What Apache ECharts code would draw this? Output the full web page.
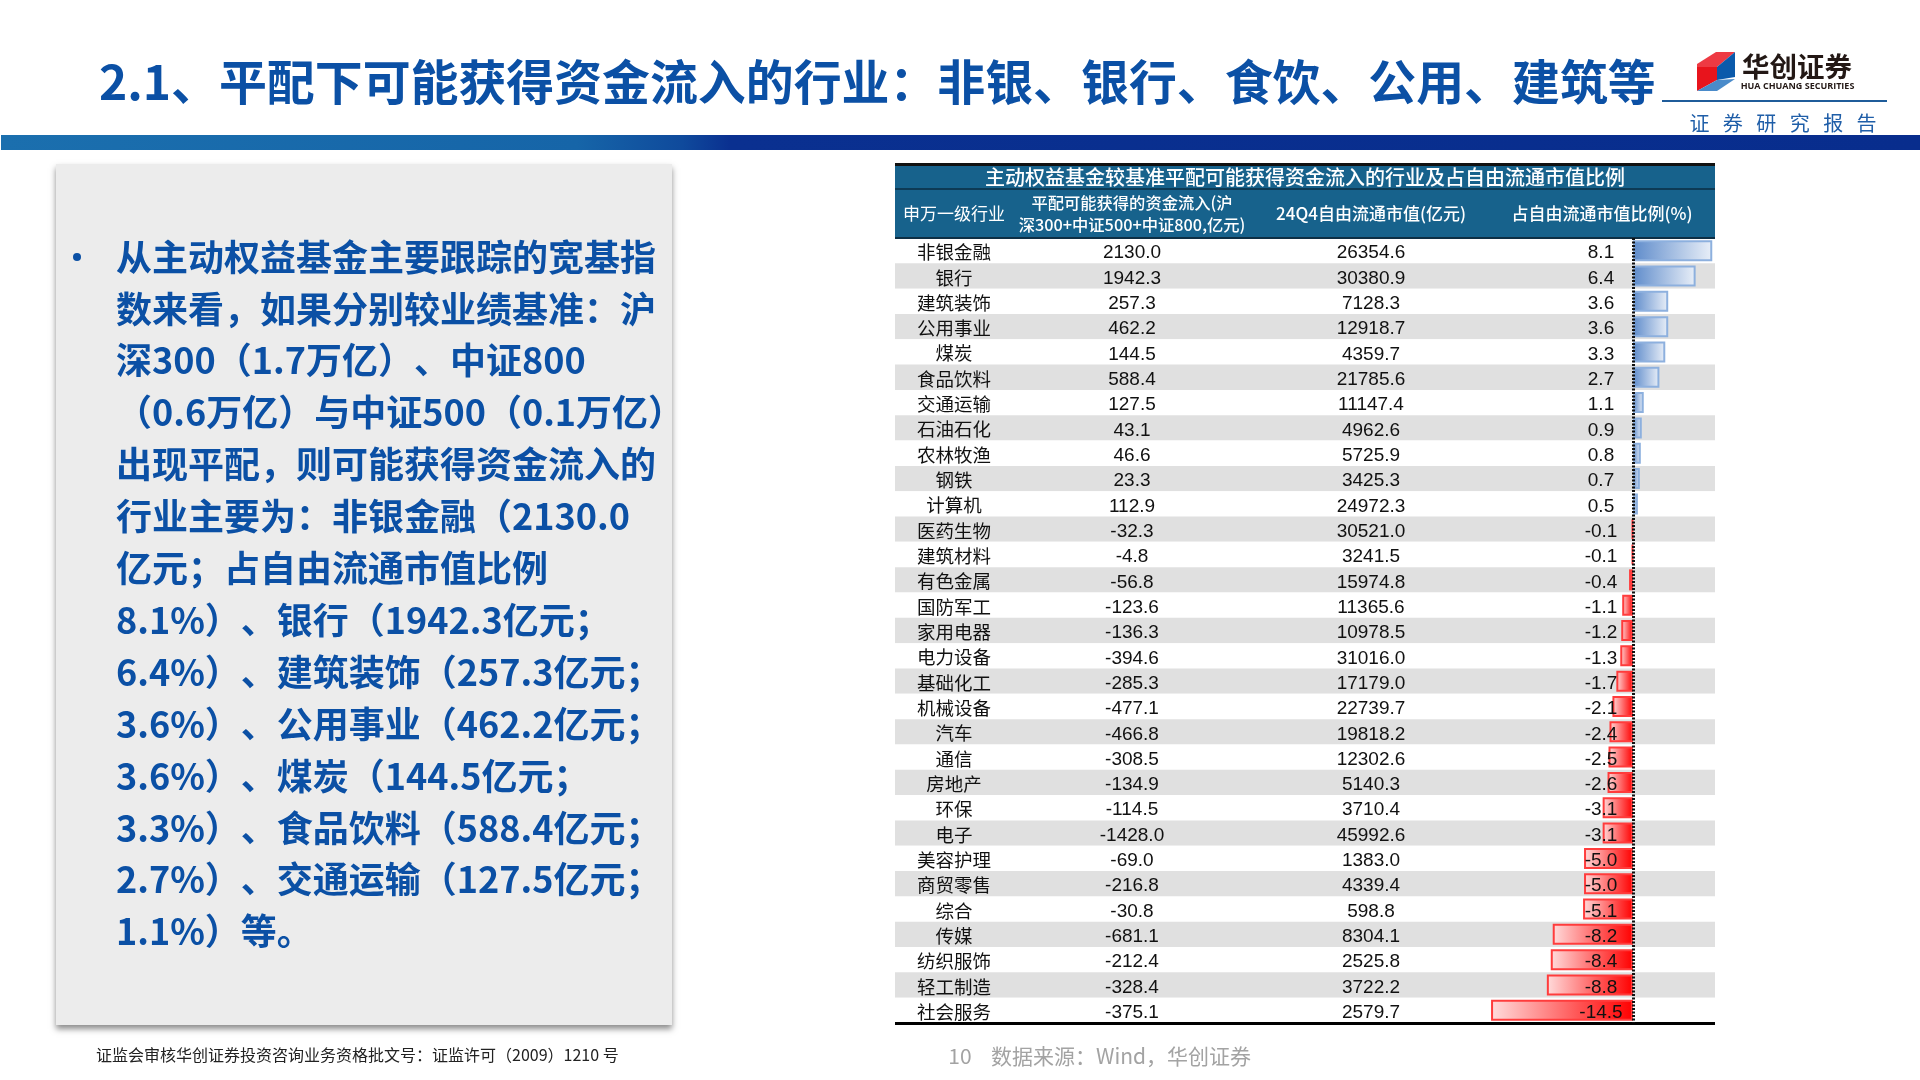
<!DOCTYPE html>
<html><head><meta charset="utf-8">
<style>html,body{margin:0;padding:0;background:#fff}#c{width:1920px;height:1080px}</style>
<script src="https://cdn.jsdelivr.net/npm/echarts@6/dist/echarts.min.js"></script>
</head><body><div id="c"></div>
<script>
const industries = ['非银金融','银行','建筑装饰','公用事业','煤炭','食品饮料','交通运输','石油石化','农林牧渔','钢铁','计算机','医药生物','建筑材料','有色金属','国防军工','家用电器','电力设备','基础化工','机械设备','汽车','通信','房地产','环保','电子','美容护理','商贸零售','综合','传媒','纺织服饰','轻工制造','社会服务'];
const inflows = [2130.0,1942.3,257.3,462.2,144.5,588.4,127.5,43.1,46.6,23.3,112.9,-32.3,-4.8,-56.8,-123.6,-136.3,-394.6,-285.3,-477.1,-466.8,-308.5,-134.9,-114.5,-1428.0,-69.0,-216.8,-30.8,-681.1,-212.4,-328.4,-375.1];
const freeCaps = [26354.6,30380.9,7128.3,12918.7,4359.7,21785.6,11147.4,4962.6,5725.9,3425.3,24972.3,30521.0,3241.5,15974.8,11365.6,10978.5,31016.0,17179.0,22739.7,19818.2,12302.6,5140.3,3710.4,45992.6,1383.0,4339.4,598.8,8304.1,2525.8,3722.2,2579.7];
const ratios = [8.1,6.4,3.6,3.6,3.3,2.7,1.1,0.9,0.8,0.7,0.5,-0.1,-0.1,-0.4,-1.1,-1.2,-1.3,-1.7,-2.1,-2.4,-2.5,-2.6,-3.1,-3.1,-5.0,-5.0,-5.1,-8.2,-8.4,-8.8,-14.5];

const slideTitle = '2.1、平配下可能获得资金流入的行业\uFF1A非银、银行、食饮、公用、建筑等';
const bodyText = ['从主动权益基金主要跟踪的宽基指','数来看\uFF0C如果分别较业绩基准\uFF1A沪','深300\uFF081.7万亿\uFF09\u200B、中证800','\uFF080.6万亿\uFF09与中证500\uFF080.1万亿\uFF09','出现平配\uFF0C则可能获得资金流入的','行业主要为\uFF1A非银金融\uFF082130.0','亿元\uFF1B占自由流通市值比例','8.1%\uFF09\u200B、银行\uFF081942.3亿元\uFF1B','6.4%\uFF09\u200B、建筑装饰\uFF08257.3亿元\uFF1B','3.6%\uFF09\u200B、公用事业\uFF08462.2亿元\uFF1B','3.6%\uFF09\u200B、煤炭\uFF08144.5亿元\uFF1B','3.3%\uFF09\u200B、食品饮料\uFF08588.4亿元\uFF1B','2.7%\uFF09\u200B、交通运输\uFF08127.5亿元\uFF1B','1.1%\uFF09等。'];
const tableTitle = '主动权益基金较基准平配可能获得资金流入的行业及占自由流通市值比例';
const colHeaders = ['申万一级行业','平配可能获得的资金流入(沪\n深300+中证500+中证800,亿元)','24Q4自由流通市值(亿元)','占自由流通市值比例(%)'];
const license = '证监会审核华创证券投资咨询业务资格批文号\uFF1A证监许可\uFF082009\uFF091210 号';
const source = '数据来源\uFF1AWind\uFF0C华创证券';

const CJK = '"Noto Sans CJK SC"';
const NUM = '"Liberation Sans"';
const LG = (a,b) => new echarts.graphic.LinearGradient(0,0,1,0,[{offset:0,color:a},{offset:1,color:b}]);
const posStyle = {color:LG('#5f8ccb','#e9eff8'),borderColor:'#8db0de',borderWidth:2};
const negStyle = {color:LG('#ffdcdc','#ff0000'),borderColor:'#ff3c3c',borderWidth:2};

function labelAxis(data, gridIndex, margin, font, size){
  return {type:'category',gridIndex,inverse:true,position:'left',data,z:10,
    axisLine:{show:false},axisTick:{show:false},splitLine:{show:false},
    axisLabel:{inside:true,margin,align:'center',interval:0,fontFamily:font,fontSize:size,color:'#111'}};
}
const txt = (x,y,text,size,color,extra={}) => ({type:'text',x,y,z:20,style:Object.assign({text,fontSize:size,fill:color,fontFamily:CJK,align:'center',verticalAlign:'middle'},extra)});
const rect = (x,y,w,h,fill,extra={}) => ({type:'rect',z:1,shape:{x,y,width:w,height:h},style:Object.assign({fill},extra)});
const poly = (points,fill) => ({type:'polygon',z:3,shape:{points},style:{fill}});
const blueTxt='#0b50a5';

const chart = echarts.init(document.getElementById('c'));
const hiddenX = i => ({type:'value',gridIndex:i,min:-75.4,max:8.38,show:false});
chart.setOption({
  animation:false,
  backgroundColor:'#fff',
  grid:[
    {left:895,width:820,top:238,height:785},
    {left:895,width:820,top:239.5,height:785},
    {left:895,width:820,top:240.5,height:785}
  ],
  xAxis:[hiddenX(0),hiddenX(1),hiddenX(2)],
  yAxis:[
    {type:'category',gridIndex:0,inverse:true,position:'left',data:industries,z:0,
      axisLine:{show:false},axisTick:{show:false},axisLabel:{show:false},splitLine:{show:false},
      splitArea:{show:true,areaStyle:{color:['#ffffff','#e0e0e0']}}},
    labelAxis(industries,1,59,CJK,18.5),
    labelAxis(inflows.map(v=>v.toFixed(1)),2,237,NUM,19),
    labelAxis(freeCaps.map(v=>v.toFixed(1)),2,476,NUM,19),
    labelAxis(ratios.map(v=>v.toFixed(1)),2,706,NUM,19)
  ],
  series:[{
    type:'bar',xAxisIndex:0,yAxisIndex:0,barWidth:21,z:5,
    data:ratios.map(v=>({value:v,itemStyle:v<0?negStyle:posStyle})),
    markLine:{silent:true,symbol:'none',label:{show:false},z:6,
      lineStyle:{type:[2,1.5],color:'#111',width:3},data:[{xAxis:0}]}
  }],
  graphic:[
    // slide header
    txt(99,82,slideTitle,47.9,blueTxt,{align:'left',fontWeight:'bold'}),
    {type:'rect',z:1,shape:{x:1,y:135,width:1919,height:15},style:{fill:new echarts.graphic.LinearGradient(0,0,1,0,[{offset:0,color:'#1b6fae'},{offset:0.3,color:'#1665a8'},{offset:0.355,color:'#0f4a9c'},{offset:0.38,color:'#0a3090'},{offset:1,color:'#082d8d'}])}},
    rect(1662,100,225,2,'#1f5c9a'),
    txt(1783,123,'证   券   研   究   报   告',20,'#1f5ea8'),
    // logo
    poly([[1697,64],[1716,52],[1735,52],[1717,67],[1697,67]],'#ee3a43'),
    poly([[1697,67],[1717,67],[1717,80],[1697,91]],'#e8141c'),
    poly([[1717,67],[1735,52],[1735,77],[1717,80]],'#0b5aab'),
    poly([[1697,91],[1717,80],[1735,79],[1717,91]],'#4a8bca'),
    txt(1797,67,'华创证券',27.5,'#231815',{fontWeight:'bold'}),
    txt(1797.5,86,'HUA CHUANG SECURITIES',9,'#231815',{fontWeight:'bold',fontFamily:'"Open Sans"'}),
    // left card
    rect(56,164,616,861,'#ececec',{shadowBlur:6,shadowOffsetY:4,shadowColor:'rgba(0,0,0,0.45)'}),
    {type:'circle',z:5,shape:{cx:77,cy:257,r:4},style:{fill:blueTxt}},
    {type:'text',x:116,y:231,z:20,style:{text:bodyText.join('\n'),fontSize:36,lineHeight:51.9,fill:blueTxt,fontWeight:'bold',fontFamily:CJK,align:'left',verticalAlign:'top'}},
    // table header
    rect(895,163,820,75,'#17628c'),
    rect(895,163,820,3,'#111'),
    rect(895,188,820,2,'#0d3a55'),
    rect(895,237,820,2,'#0d2f45'),
    rect(895,1022,820,3,'#000'),
    txt(1305,177,tableTitle,20,'#fff',{fontWeight:500}),
    txt(954,214,colHeaders[0],17,'#fff'),
    txt(1132,214,colHeaders[1],16.3,'#fff',{lineHeight:22,fontWeight:500}),
    txt(1371,214,colHeaders[2],17,'#fff',{fontWeight:500}),
    txt(1602,214,colHeaders[3],17,'#fff',{fontWeight:500}),
    // footer
    txt(96,1055,license,16,'#222',{align:'left'}),
    txt(960,1056,'10',21,'#a3a3a3'),
    txt(991,1056,source,21,'#a3a3a3',{align:'left'})
  ]
});
</script></body></html>
